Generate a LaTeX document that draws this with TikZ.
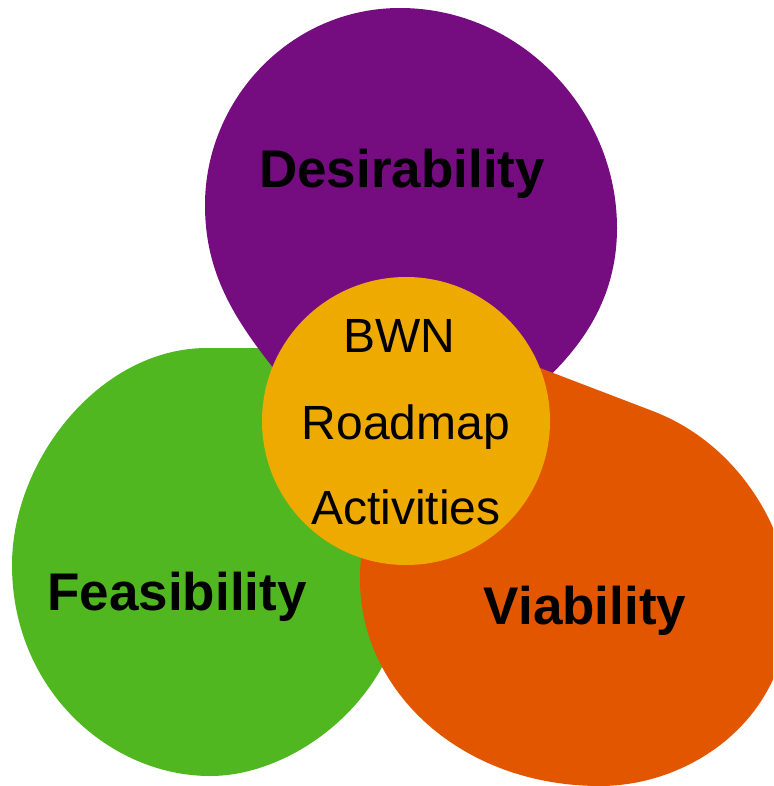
\documentclass[tikz,border=0pt]{standalone}
\usepackage{fontspec}
\setmainfont{Liberation Sans}
\definecolor{desircol}{RGB}{117,12,128}
\definecolor{feascol}{RGB}{81,183,32}
\definecolor{viabcol}{RGB}{226,86,0}
\definecolor{corecol}{RGB}{239,170,0}
\begin{document}
\begin{tikzpicture}[x=1pt,y=-1pt,
  biglabel/.style={anchor=base,inner sep=0pt,font=\fontsize{53}{60}\selectfont\bfseries},
  corelabel/.style={anchor=base,inner sep=0pt,font=\fontsize{48}{54}\selectfont}]
\useasboundingbox (0,0) rectangle (773,786);
\clip (0,0) rectangle (773,786);
\fill [feascol] (300,348) -- (207,348) .. controls (100,348) and (12,460) .. (12,565)
  .. controls (12,690) and (110,776) .. (210,776) .. controls (300,776) and (405,690) .. (405,580)
  .. controls (405,470) and (360,400) .. (300,348) -- cycle;
\fill [desircol] (400,8) .. controls (290,8) and (205,100) .. (205,205)
  .. controls (205,280) and (240,330) .. (300,400) -- (410,440) -- (540,385)
  .. controls (590,340) and (617,290) .. (617,228) .. controls (617,110) and (520,8) .. (400,8) -- cycle;
\fill [viabcol] (480,345) -- (650,410) .. controls (745,445) and (790,540) .. (790,600)
  .. controls (790,720) and (690,786) .. (600,786) .. controls (460,786) and (360,690) .. (360,580)
  .. controls (360,480) and (420,390) .. (480,345) -- cycle;
\node [circle,fill=corecol,minimum size=288pt,inner sep=0pt] (core) at (406,421) {};
\node [biglabel] (desir) at (402,188) {Desirability};
\node [biglabel] (feas) at (177,610) {Feasibility};
\node [biglabel] (viab) at (585,624) {Viability};
\node [corelabel] (bwn) at (399,352) {BWN};
\node [corelabel] (roadmap) at (406,439) {Roadmap};
\node [corelabel] (activ) at (406,524) {Activities};
\end{tikzpicture}
\end{document}
